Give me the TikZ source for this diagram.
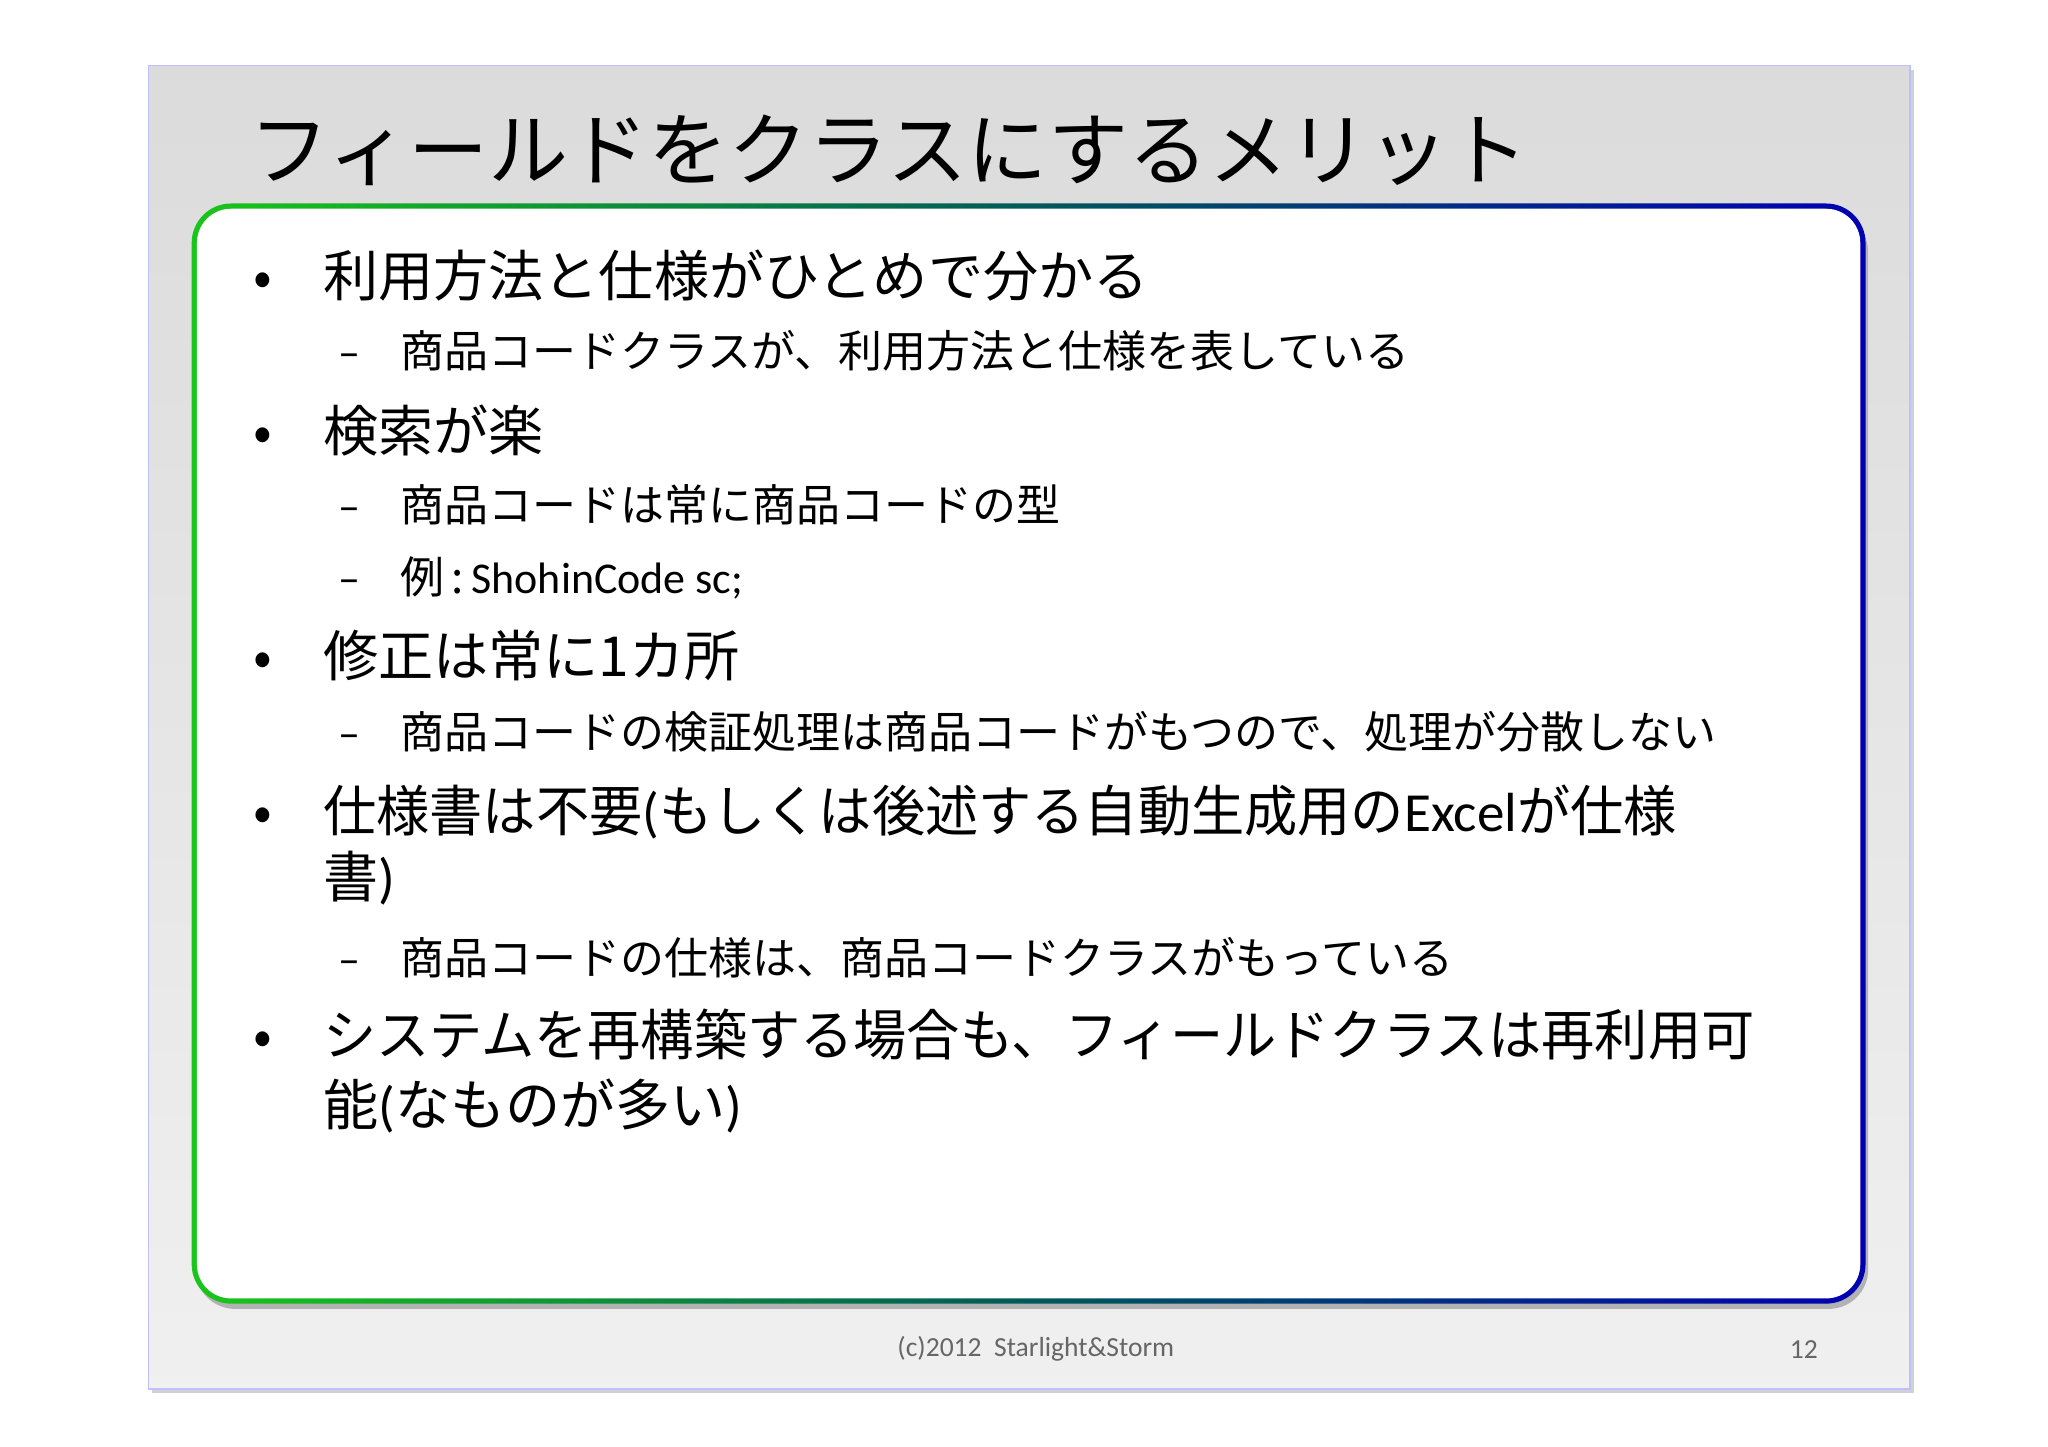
\documentclass[tikz,border=0pt]{standalone}
\usepackage{fontspec}
\setmainfont{Noto Sans CJK JP}
\newfontfamily\latinf{Carlito}
\newfontfamily\cjkn[FakeStretch=0.965]{Noto Sans CJK JP}
\begin{document}
\begin{tikzpicture}[x=1pt,y=-1pt,
  lone/.style={anchor=base west,font=\fontsize{42}{50}\selectfont,inner sep=0},
  ltwo/.style={anchor=base west,font=\fontsize{33.5}{40}\selectfont,inner sep=0}]
\useasboundingbox (0,0) rectangle (1560,1102);
\fill[white] (0,0) rectangle (1560,1102);
\fill[black!18] (116,53) rectangle (1458,1061);
\shade[top color=black!14,bottom color=black!6,draw=blue!25!white,line width=1.2] (113,50) rectangle (1455,1058);
\fill[black!30,rounded corners=30] (149,162) rectangle (1423,997);
\shade[left color=green!75!black!90,right color=blue!70!black,rounded corners=30,middle color=teal!70!black] (146,155) rectangle (1421,993);
\fill[white,rounded corners=26] (150,159) rectangle (1417,989);
\node[anchor=base west,inner sep=0,font=\fontsize{61}{70}\selectfont] (title) at (190,137) {フィールドをクラスにするメリット};
\node[lone] (b1) at (193,226) {•};
\node[lone] (t1) at (246,226) {利用方法と仕様がひとめで分かる};
\node[ltwo] (d1) at (258,280) {{\latinf –}};
\node[ltwo] (s1) at (305,280) {商品コードクラスが、利用方法と仕様を表している};
\node[lone] (b2) at (193,344) {•};
\node[lone] (t2) at (246,344) {検索が楽};
\node[ltwo] (d2) at (258,397) {{\latinf –}};
\node[ltwo] (s2) at (305,397) {商品コードは常に商品コードの型};
\node[ltwo] (d3) at (258,452) {{\latinf –}};
\node[ltwo] (s3) at (305,452) {例\,:\,{\latinf ShohinCode sc;}};
\node[lone] (b3) at (193,515) {•};
\node[lone] (t3) at (246,515) {修正は常に1カ所};
\node[ltwo] (d4) at (258,570) {{\latinf –}};
\node[ltwo] (s4) at (305,570) {商品コードの検証処理は商品コードがもつので、処理が分散しない};
\node[lone] (b4) at (193,633) {•};
\node[lone] (t4) at (246,633) {\cjkn 仕様書は不要{\latinf (}もしくは後述する自動生成用の{\latinf Excel}が仕様};
\node[lone] (t4b) at (246,684) {書{\latinf )}};
\node[ltwo] (d5) at (258,742) {{\latinf –}};
\node[ltwo] (s5) at (305,742) {商品コードの仕様は、商品コードクラスがもっている};
\node[lone] (b5) at (193,804) {•};
\node[lone] (t5) at (246,804) {\cjkn システムを再構築する場合も、フィールドクラスは再利用可};
\node[lone] (t5b) at (246,857) {能{\latinf (}なものが多い{\latinf )}};
\node[anchor=base,inner sep=0,font=\latinf\fontsize{21}{24}\selectfont,text=black!60] (foot) at (789,1033) {(c)2012\ \ Starlight\&Storm};
\node[anchor=base,inner sep=0,font=\latinf\fontsize{21}{24}\selectfont,text=black!60] (pg) at (1374,1035) {12};
\end{tikzpicture}
\end{document}
